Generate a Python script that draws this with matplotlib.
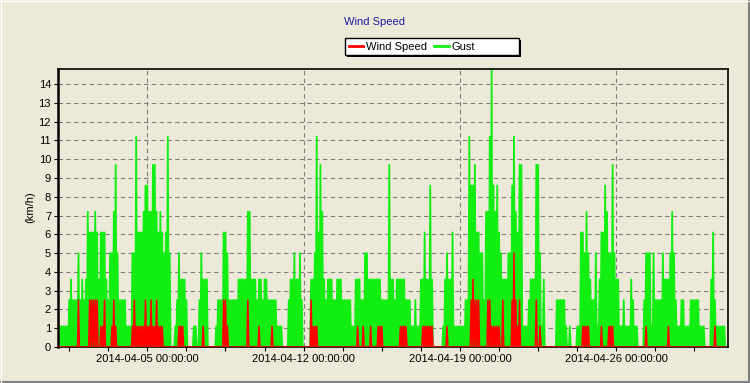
import numpy as np
import pandas as pd
import matplotlib
matplotlib.use("Agg")
import matplotlib.pyplot as plt
import matplotlib.dates as mdates
from matplotlib.patches import Rectangle
from matplotlib.lines import Line2D

plt.rcParams["font.family"] = ["Liberation Sans", "DejaVu Sans"]

# hourly readings (km/h), one row per day, 2014-04-01 .. 2014-04-30
gust = [
    1.1, 0, 1.1, 0, 1.1, 0, 1.1, 0, 1.1, 0, 1.1, 0, 2.5, 0, 3.6, 0, 2.5, 0, 2.5, 0, 2.5, 0, 5.0, 0,
    2.5, 0, 3.6, 0, 2.5, 0, 3.6, 0, 7.2, 0, 6.1, 0, 6.1, 0, 6.1, 0, 7.2, 0, 6.1, 0, 3.6, 0, 6.1, 0,
    6.1, 0, 6.1, 0, 3.6, 0, 2.5, 0, 5.0, 0, 5.0, 0, 7.2, 0, 9.7, 0, 5.0, 0, 2.5, 0, 2.5, 0, 2.5, 0,
    2.5, 0, 1.1, 0, 1.1, 0, 1.1, 0, 5.0, 0, 5.0, 0, 11.2, 0, 6.1, 0, 6.1, 0, 6.1, 0, 7.2, 0, 8.6, 0,
    8.6, 0, 7.2, 0, 7.2, 0, 9.7, 0, 9.7, 0, 7.2, 0, 6.1, 0, 7.2, 0, 6.1, 0, 5.0, 0, 6.1, 0, 11.2, 0,
    5.0, 0, 0, 0, 0, 0, 1.1, 0, 2.5, 0, 5.0, 0, 3.6, 0, 3.6, 0, 3.6, 0, 2.5, 0, 0, 0, 0, 0,
    0, 0, 1.1, 0, 1.1, 0, 0, 0, 2.5, 0, 5.0, 0, 3.6, 0, 3.6, 0, 3.6, 0, 0, 0, 0, 0, 0, 0,
    0, 0, 1.1, 0, 2.5, 0, 2.5, 0, 2.5, 0, 6.1, 0, 6.1, 0, 5.0, 0, 2.5, 0, 2.5, 0, 2.5, 0, 2.5, 0,
    2.5, 0, 3.6, 0, 3.6, 0, 3.6, 0, 3.6, 0, 3.6, 0, 7.2, 0, 7.2, 0, 3.6, 0, 3.6, 0, 3.6, 0, 2.5, 0,
    3.6, 0, 3.6, 0, 2.5, 0, 3.6, 0, 3.6, 0, 2.5, 0, 2.5, 0, 2.5, 0, 2.5, 0, 2.5, 0, 1.1, 0, 1.1, 0,
    1.1, 0, 0, 0, 0, 0, 0, 0, 2.5, 0, 3.6, 0, 3.6, 0, 5.0, 0, 3.6, 0, 3.6, 0, 5.0, 0, 2.5, 0,
    0, 0, 0, 0, 0, 0, 0, 0, 3.6, 0, 3.6, 0, 5.0, 0, 11.2, 0, 6.1, 0, 9.7, 0, 7.2, 0, 3.6, 0,
    2.5, 0, 3.6, 0, 3.6, 0, 3.6, 0, 2.5, 0, 2.5, 0, 3.6, 0, 3.6, 0, 3.6, 0, 2.5, 0, 2.5, 0, 2.5, 0,
    2.5, 0, 2.5, 0, 1.1, 0, 1.1, 0, 3.6, 0, 3.6, 0, 3.6, 0, 2.5, 0, 2.5, 0, 5.0, 0, 5.0, 0, 3.6, 0,
    3.6, 0, 3.6, 0, 3.6, 0, 3.6, 0, 3.6, 0, 3.6, 0, 2.5, 0, 2.5, 0, 2.5, 0, 2.5, 0, 9.7, 0, 3.6, 0,
    3.6, 0, 2.5, 0, 3.6, 0, 3.6, 0, 3.6, 0, 3.6, 0, 3.6, 0, 2.5, 0, 2.5, 0, 2.5, 0, 1.1, 0, 1.1, 0,
    2.5, 0, 1.1, 0, 1.1, 0, 3.6, 0, 3.6, 0, 6.1, 0, 3.6, 0, 3.6, 0, 8.6, 0, 3.6, 0, 0, 0, 0, 0,
    0, 0, 0, 0, 0, 0, 1.1, 0, 3.6, 0, 5.0, 0, 3.6, 0, 3.6, 0, 6.1, 0, 1.1, 0, 1.1, 0, 1.1, 0,
    1.1, 0, 1.1, 0, 1.1, 0, 2.5, 0, 2.5, 0, 11.2, 0, 8.6, 0, 8.6, 0, 9.7, 0, 6.1, 0, 6.1, 0, 5.0, 0,
    5.0, 0, 2.5, 0, 7.2, 0, 7.2, 0, 11.2, 0, 14.8, 0, 8.6, 0, 7.2, 0, 8.6, 0, 6.1, 0, 5.0, 0, 3.6, 0,
    3.6, 0, 3.6, 0, 5.0, 0, 5.0, 0, 8.6, 0, 11.2, 0, 7.2, 0, 6.1, 0, 9.7, 0, 9.7, 0, 1.1, 0, 1.1, 0,
    1.1, 0, 2.5, 0, 3.6, 0, 3.6, 0, 3.6, 0, 9.7, 0, 9.7, 0, 5.0, 0, 1.1, 0, 3.6, 0, 0, 0, 0, 0,
    0, 0, 0, 0, 0, 0, 0, 0, 2.5, 0, 2.5, 0, 2.5, 0, 2.5, 0, 2.5, 0, 1.1, 0, 0, 0, 1.1, 0,
    0, 0, 0, 0, 0, 0, 1.1, 0, 1.1, 0, 6.1, 0, 6.1, 0, 5.0, 0, 7.2, 0, 5.0, 0, 3.6, 0, 2.5, 0,
    2.5, 0, 5.0, 0, 1.1, 0, 3.6, 0, 6.1, 0, 6.1, 0, 8.6, 0, 7.2, 0, 5.0, 0, 5.0, 0, 9.7, 0, 5.0, 0,
    3.6, 0, 3.6, 0, 1.1, 0, 1.1, 0, 2.5, 0, 1.1, 0, 1.1, 0, 1.1, 0, 3.6, 0, 2.5, 0, 1.1, 0, 1.1, 0,
    0, 0, 0, 0, 0, 0, 2.5, 0, 5.0, 0, 5.0, 0, 5.0, 0, 1.1, 0, 5.0, 0, 2.5, 0, 2.5, 0, 2.5, 0,
    2.5, 0, 5.0, 0, 3.6, 0, 3.6, 0, 3.6, 0, 5.0, 0, 7.2, 0, 5.0, 0, 2.5, 0, 1.1, 0, 1.1, 0, 2.5, 0,
    2.5, 0, 1.1, 0, 1.1, 0, 1.1, 0, 2.5, 0, 2.5, 0, 2.5, 0, 2.5, 0, 2.5, 0, 1.1, 0, 1.1, 0, 1.1, 0,
    0, 0, 0, 0, 0, 0, 3.6, 0, 6.1, 0, 2.5, 0, 1.1, 0, 1.1, 0, 1.1, 0, 1.1, 0, 1.1, 0,
]

wind_speed = [
    0, 0, 0, 0, 0, 0, 0, 0, 0, 0, 0, 0, 0, 0, 0, 0, 0, 0, 0, 0, 0, 0, 2.5, 0,
    0, 0, 0, 0, 0, 0, 0, 0, 0, 0, 2.5, 0, 2.5, 0, 2.5, 0, 2.5, 0, 2.5, 0, 0, 0, 1.1, 0,
    1.1, 0, 2.5, 0, 0, 0, 0, 0, 0, 0, 1.1, 0, 2.5, 0, 1.1, 0, 0, 0, 0, 0, 0, 0, 0, 0,
    0, 0, 0, 0, 0, 0, 0, 0, 1.1, 0, 2.5, 0, 1.1, 0, 1.1, 0, 1.1, 0, 1.1, 0, 1.1, 0, 2.5, 0,
    1.1, 0, 1.1, 0, 2.5, 0, 1.1, 0, 1.1, 0, 2.5, 0, 1.1, 0, 1.1, 0, 1.1, 0, 0, 0, 0, 0, 0, 0,
    0, 0, 0, 0, 0, 0, 0, 0, 0, 0, 1.1, 0, 1.1, 0, 1.1, 0, 0, 0, 0, 0, 0, 0, 0, 0,
    0, 0, 0, 0, 0, 0, 0, 0, 0, 0, 0, 0, 1.1, 0, 0, 0, 0, 0, 0, 0, 0, 0, 0, 0,
    0, 0, 0, 0, 0, 0, 0, 0, 0, 0, 2.5, 0, 2.5, 0, 1.1, 0, 0, 0, 0, 0, 0, 0, 0, 0,
    0, 0, 0, 0, 0, 0, 0, 0, 0, 0, 0, 0, 2.5, 0, 0, 0, 0, 0, 0, 0, 0, 0, 0, 0,
    1.1, 0, 0, 0, 0, 0, 0, 0, 0, 0, 0, 0, 0, 0, 1.1, 0, 0, 0, 0, 0, 0, 0, 0, 0,
    0, 0, 0, 0, 0, 0, 0, 0, 0, 0, 0, 0, 0, 0, 0, 0, 0, 0, 0, 0, 0, 0, 0, 0,
    0, 0, 0, 0, 0, 0, 0, 0, 2.5, 0, 1.1, 0, 1.1, 0, 1.1, 0, 0, 0, 0, 0, 0, 0, 0, 0,
    0, 0, 0, 0, 0, 0, 0, 0, 0, 0, 0, 0, 0, 0, 0, 0, 0, 0, 0, 0, 0, 0, 0, 0,
    0, 0, 0, 0, 0, 0, 0, 0, 0, 0, 1.1, 0, 0, 0, 0, 0, 1.1, 0, 0, 0, 0, 0, 0, 0,
    1.1, 0, 0, 0, 0, 0, 0, 0, 1.1, 0, 1.1, 0, 1.1, 0, 0, 0, 0, 0, 0, 0, 0, 0, 0, 0,
    0, 0, 0, 0, 0, 0, 0, 0, 1.1, 0, 1.1, 0, 1.1, 0, 1.1, 0, 0, 0, 0, 0, 0, 0, 0, 0,
    0, 0, 0, 0, 0, 0, 0, 0, 1.1, 0, 1.1, 0, 1.1, 0, 1.1, 0, 1.1, 0, 1.1, 0, 0, 0, 0, 0,
    0, 0, 0, 0, 0, 0, 0, 0, 0, 0, 1.1, 0, 0, 0, 0, 0, 0, 0, 0, 0, 0, 0, 0, 0,
    0, 0, 0, 0, 0, 0, 0, 0, 0, 0, 0, 0, 2.5, 0, 3.6, 0, 2.5, 0, 2.5, 0, 2.5, 0, 0, 0,
    0, 0, 0, 0, 0, 0, 2.5, 0, 2.5, 0, 1.1, 0, 1.1, 0, 1.1, 0, 1.1, 0, 1.1, 0, 0, 0, 2.5, 0,
    0, 0, 0, 0, 0, 0, 0, 0, 2.5, 0, 5.0, 0, 2.5, 0, 1.1, 0, 2.5, 0, 0, 0, 0, 0, 0, 0,
    0, 0, 0, 0, 0, 0, 0, 0, 0, 0, 2.5, 0, 0, 0, 1.1, 0, 0, 0, 0, 0, 0, 0, 0, 0,
    0, 0, 0, 0, 0, 0, 0, 0, 0, 0, 0, 0, 0, 0, 0, 0, 0, 0, 0, 0, 0, 0, 0, 0,
    0, 0, 0, 0, 0, 0, 0, 0, 0, 0, 0, 0, 1.1, 0, 1.1, 0, 1.1, 0, 1.1, 0, 0, 0, 0, 0,
    0, 0, 0, 0, 0, 0, 0, 0, 1.1, 0, 0, 0, 0, 0, 0, 0, 1.1, 0, 1.1, 0, 1.1, 0, 0, 0,
    0, 0, 0, 0, 0, 0, 0, 0, 0, 0, 0, 0, 0, 0, 0, 0, 0, 0, 0, 0, 0, 0, 0, 0,
    0, 0, 0, 0, 0, 0, 0, 0, 1.1, 0, 0, 0, 0, 0, 0, 0, 0, 0, 0, 0, 0, 0, 0, 0,
    0, 0, 0, 0, 0, 0, 0, 0, 1.1, 0, 0, 0, 0, 0, 0, 0, 0, 0, 0, 0, 0, 0, 0, 0,
    0, 0, 0, 0, 0, 0, 0, 0, 0, 0, 0, 0, 0, 0, 0, 0, 0, 0, 0, 0, 0, 0, 0, 0,
    0, 0, 0, 0, 0, 0, 0, 0, 0, 0, 1.1, 0, 0, 0, 0, 0, 0, 0, 0, 0, 0, 0,
]

tiempos = pd.date_range("2014-04-01 00:00", periods=len(gust), freq="h")
ticks_mayores = pd.to_datetime(["2014-04-05", "2014-04-12", "2014-04-19", "2014-04-26"])
ticks_menores = pd.date_range("2014-04-01 12:00", "2014-04-30 23:00", freq="42h")

fondo = "#ece9d8"
fig = plt.figure(figsize=(7.5, 3.83), dpi=100, facecolor=fondo)
ax = fig.add_axes([58 / 750, 1 - 347 / 383, 670 / 750, 278 / 383], facecolor=fondo)

ax.plot(tiempos, gust, color="#12ee12", lw=1.3, label="Gust", zorder=2)
ax.plot(tiempos, wind_speed, color="#ff0000", lw=1.1, label="Wind Speed", zorder=3)

ax.set_xlim(pd.Timestamp("2014-04-01 00:00"), pd.Timestamp("2014-05-01 00:00"))
ax.set_ylim(0, 14.8)
ax.set_yticks(range(0, 15))
ax.set_xticks(ticks_mayores)
ax.set_xticks(ticks_menores, minor=True)
ax.xaxis.set_major_formatter(mdates.DateFormatter("%Y-%m-%d %H:%M:%S"))

ax.set_axisbelow(True)
ax.grid(True, which="major", axis="both", color="#808080", lw=0.8, ls=(0, (4, 3)))
ax.tick_params(axis="both", which="both", length=3, width=0.8, labelsize=8, pad=2, colors="black")
for lado in ["top", "right", "bottom"]:
    ax.spines[lado].set_linewidth(1.2)
ax.spines["left"].set_linewidth(1.8)

fig.text(375 / 750, 1 - 22 / 383, "Wind Speed", color="#1c1ca0", ha="center", va="center", fontsize=8)
fig.text(30 / 750, 1 - 207 / 383, "(km/h)", rotation=90, ha="center", va="center", fontsize=8)

# legend box with shadow
fig.patches.append(Rectangle((347 / 750, 1 - 57 / 383), 174 / 750, 17 / 383, transform=fig.transFigure,
                             facecolor="black", edgecolor="black", lw=0, zorder=5))
fig.patches.append(Rectangle((345 / 750, 1 - 55 / 383), 174 / 750, 17 / 383, transform=fig.transFigure,
                             facecolor="white", edgecolor="black", lw=1, zorder=6))
handles, labels = ax.get_legend_handles_labels()
leg = fig.legend([handles[1], handles[0]], [labels[1], labels[0]], loc="center left",
                 bbox_to_anchor=(349 / 750, 1 - 46.5 / 383), ncol=2, frameon=False, fontsize=8,
                 handlelength=1.3, handletextpad=0.2, columnspacing=0.7, borderpad=0, borderaxespad=0)
leg.set_zorder(7)
for linea in leg.get_lines():
    linea.set_linewidth(2)

# 3D frame of the panel
fig.add_artist(Line2D([0.998, 0.998], [0, 1], transform=fig.transFigure, color="#808080", lw=1.5))
fig.add_artist(Line2D([0, 1], [0.003, 0.003], transform=fig.transFigure, color="#808080", lw=1.5))
fig.add_artist(Line2D([0.001, 0.001], [0, 1], transform=fig.transFigure, color="white", lw=1))
fig.add_artist(Line2D([0, 1], [0.998, 0.998], transform=fig.transFigure, color="white", lw=1))

fig.savefig("out.png", dpi=100, facecolor=fondo)
